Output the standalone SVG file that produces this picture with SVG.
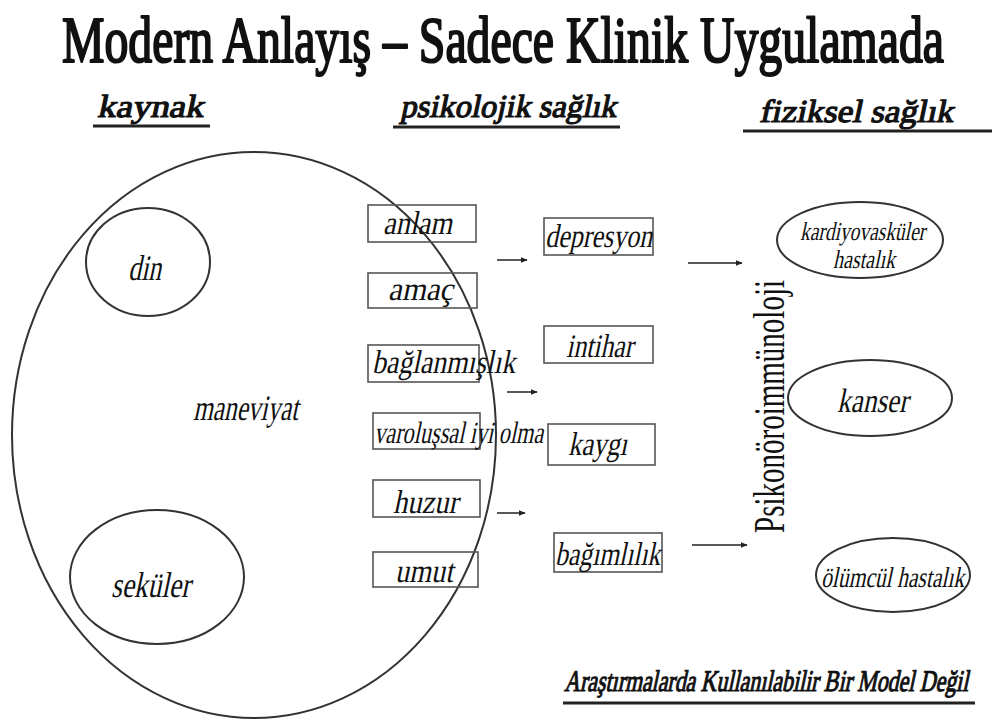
<svg xmlns="http://www.w3.org/2000/svg" width="992" height="722" viewBox="0 0 992 722">
  <defs>
    <marker id="arrow" viewBox="0 0 10 10" refX="9" refY="5" markerWidth="7" markerHeight="7" markerUnits="userSpaceOnUse" orient="auto">
      <path d="M0,1 L10,5 L0,9 Z" fill="#222"/>
    </marker>
  </defs>
  <style>
    text { font-family: "Liberation Serif", "DejaVu Serif", "Times New Roman", serif; font-style: normal; font-weight: normal; fill: #111; }
    .title { font-size: 66px; stroke: #111; stroke-width: 2.2; stroke-linejoin: round; }
    .head { font-size: 32px; stroke: #111; stroke-width: 1.2; stroke-linejoin: round; }
    .note { font-size: 30px; stroke: #111; stroke-width: 1.1; stroke-linejoin: round; }
    .rule { stroke: #222; stroke-width: 3; }
    .ring { fill: none; stroke: #333; stroke-width: 2; }
    .box { fill: none; stroke: #555; stroke-width: 1.6; }
    .arr { stroke: #222; stroke-width: 1.5; fill: none; marker-end: url(#arrow); }
  </style>

  <rect width="992" height="722" fill="#fff"/>

  <!-- heading (heavy upright serif) -->
  <text class="title" x="62" y="62" textLength="882" lengthAdjust="spacingAndGlyphs">Modern Anlayış – Sadece Klinik Uygulamada</text>

  <!-- column headers (slanted heavy serif) -->
  <g id="col-kaynak">
    <text class="head" transform="translate(97,117) skewX(-12)" textLength="106" lengthAdjust="spacingAndGlyphs">kaynak</text>
    <line class="rule" x1="93" y1="126" x2="210" y2="126"/>
  </g>
  <g id="col-psikolojik">
    <text class="head" transform="translate(400,117) skewX(-12)" textLength="216" lengthAdjust="spacingAndGlyphs">psikolojik sağlık</text>
    <line class="rule" x1="393" y1="127" x2="620" y2="127"/>
  </g>
  <g id="col-fiziksel">
    <text class="head" transform="translate(759,122) skewX(-12)" textLength="194" lengthAdjust="spacingAndGlyphs">fiziksel sağlık</text>
    <line class="rule" x1="743" y1="131" x2="992" y2="131"/>
  </g>

  <!-- sources -->
  <g id="maneviyat">
    <ellipse class="ring" cx="254" cy="435" rx="242" ry="283"/>
    <text transform="translate(193,420) skewX(-12)" font-size="36" textLength="105" lengthAdjust="spacingAndGlyphs">maneviyat</text>
  </g>
  <g id="din">
    <ellipse class="ring" cx="148" cy="262" rx="62" ry="54"/>
    <text transform="translate(128,280) skewX(-12)" font-size="36" textLength="33" lengthAdjust="spacingAndGlyphs">din</text>
  </g>
  <g id="sekuler">
    <ellipse class="ring" cx="157" cy="577" rx="87" ry="67"/>
    <text transform="translate(111,597) skewX(-12)" font-size="36" textLength="79" lengthAdjust="spacingAndGlyphs">seküler</text>
  </g>

  <!-- psychological health -->
  <g id="anlam">
    <rect class="box" x="368" y="205" width="108" height="37"/>
    <text transform="translate(383,234) skewX(-12)" font-size="33" textLength="69" lengthAdjust="spacingAndGlyphs">anlam</text>
  </g>
  <g id="amac">
    <rect class="box" x="368" y="273" width="109" height="35"/>
    <text transform="translate(388,300) skewX(-12)" font-size="33" textLength="65" lengthAdjust="spacingAndGlyphs">amaç</text>
  </g>
  <g id="baglanmislik">
    <rect class="box" x="368" y="345" width="111" height="37"/>
    <text transform="translate(372,373) skewX(-12)" font-size="33" textLength="143" lengthAdjust="spacingAndGlyphs">bağlanmışlık</text>
  </g>
  <g id="varolussal">
    <rect class="box" x="373" y="413" width="107" height="36"/>
    <text transform="translate(374,443) skewX(-12)" font-size="31" textLength="169" lengthAdjust="spacingAndGlyphs">varoluşsal iyi olma</text>
  </g>
  <g id="huzur">
    <rect class="box" x="373" y="480" width="107" height="37"/>
    <text transform="translate(393,513) skewX(-12)" font-size="33" textLength="65" lengthAdjust="spacingAndGlyphs">huzur</text>
  </g>
  <g id="umut">
    <rect class="box" x="373" y="552" width="105" height="35"/>
    <text transform="translate(395,582) skewX(-12)" font-size="33" textLength="58" lengthAdjust="spacingAndGlyphs">umut</text>
  </g>

  <g id="depresyon">
    <rect class="box" x="544" y="218" width="109" height="37"/>
    <text transform="translate(545,247) skewX(-12)" font-size="33" textLength="107" lengthAdjust="spacingAndGlyphs">depresyon</text>
  </g>
  <g id="intihar">
    <rect class="box" x="544" y="326" width="109" height="37"/>
    <text transform="translate(566,357) skewX(-12)" font-size="33" textLength="67" lengthAdjust="spacingAndGlyphs">intihar</text>
  </g>
  <g id="kaygi">
    <rect class="box" x="548" y="424" width="107" height="41"/>
    <text transform="translate(568,455) skewX(-12)" font-size="33" textLength="59" lengthAdjust="spacingAndGlyphs">kaygı</text>
  </g>
  <g id="bagimlilik">
    <rect class="box" x="554" y="533" width="108" height="39"/>
    <text transform="translate(555,565) skewX(-12)" font-size="33" textLength="105" lengthAdjust="spacingAndGlyphs">bağımlılık</text>
  </g>

  <!-- mechanism label, read bottom to top -->
  <g id="psikonoroimmunoloji">
    <text transform="translate(784,533) rotate(-90)" x="0" y="0" font-size="44" textLength="253" lengthAdjust="spacingAndGlyphs">Psikonöroimmünoloji</text>
  </g>

  <!-- physical health -->
  <g id="kardiyovaskuler">
    <ellipse class="ring" cx="860" cy="240" rx="83" ry="38"/>
    <text transform="translate(800,240) skewX(-12)" font-size="26" textLength="125" lengthAdjust="spacingAndGlyphs">kardiyovasküler</text>
    <text transform="translate(833,268) skewX(-12)" font-size="26" textLength="62" lengthAdjust="spacingAndGlyphs">hastalık</text>
  </g>
  <g id="kanser">
    <ellipse class="ring" cx="870" cy="398" rx="82" ry="38"/>
    <text transform="translate(837,412) skewX(-12)" font-size="34" textLength="71" lengthAdjust="spacingAndGlyphs">kanser</text>
  </g>
  <g id="olumcul">
    <ellipse class="ring" cx="893" cy="575" rx="77" ry="37"/>
    <text transform="translate(821,587) skewX(-12)" font-size="29" textLength="143" lengthAdjust="spacingAndGlyphs">ölümcül hastalık</text>
  </g>

  <!-- arrows -->
  <g id="connectors">
    <line class="arr" x1="497" y1="260" x2="527" y2="260"/>
    <line class="arr" x1="507" y1="392" x2="537" y2="392"/>
    <line class="arr" x1="497" y1="513" x2="525" y2="513"/>
    <line class="arr" x1="688" y1="263" x2="742" y2="263"/>
    <line class="arr" x1="692" y1="545" x2="747" y2="545"/>
  </g>

  <!-- footnote -->
  <g id="footnote">
    <text class="note" transform="translate(564,691) skewX(-12)" textLength="404" lengthAdjust="spacingAndGlyphs">Araştırmalarda Kullanılabilir Bir Model Değil</text>
    <line class="rule" x1="563" y1="703" x2="975" y2="703"/>
  </g>
</svg>
